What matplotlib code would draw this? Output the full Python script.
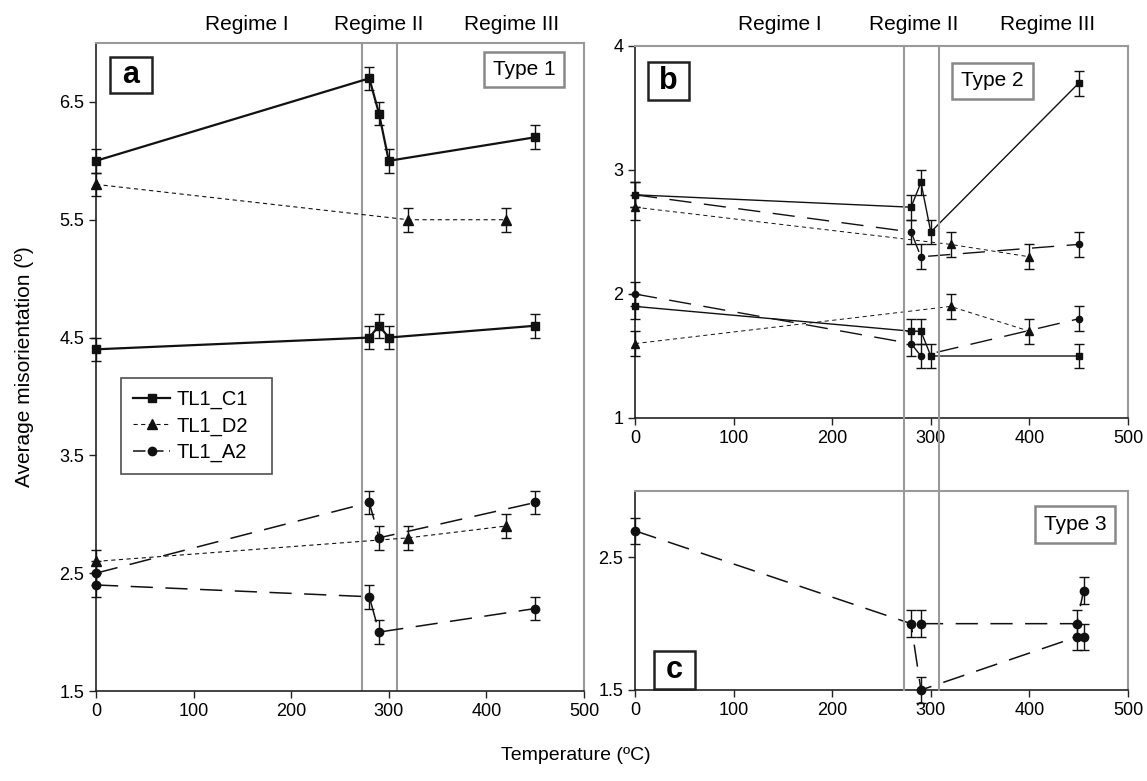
import matplotlib
matplotlib.use("Agg")
import matplotlib.pyplot as plt
from matplotlib.lines import Line2D
from matplotlib.patches import Rectangle
from matplotlib.transforms import blended_transform_factory

plt.rcParams["font.family"] = ["Liberation Sans", "DejaVu Sans"]
plt.rcParams["lines.scale_dashes"] = False

W, H = 1147, 781
ERR = 0.1
REGIME_BOUNDS = [272.5, 308.5]
XTICKS = [0, 100, 200, 300, 400, 500]
LEGEND_LABELS = ["TL1_C1", "TL1_D2", "TL1_A2"]

# panel a (Type 1)
A_C1_UP_X = [0, 280, 290, 300, 450]
A_C1_UP_Y = [6.0, 6.7, 6.4, 6.0, 6.2]
A_C1_LO_X = [0, 280, 290, 300, 450]
A_C1_LO_Y = [4.4, 4.5, 4.6, 4.5, 4.6]
A_D2_UP_X = [0, 320, 420]
A_D2_UP_Y = [5.8, 5.5, 5.5]
A_D2_LO_X = [0, 320, 420]
A_D2_LO_Y = [2.6, 2.8, 2.9]
A_A2_UP_X = [0, 280, 290, 450]
A_A2_UP_Y = [2.5, 3.1, 2.8, 3.1]
A_A2_LO_X = [0, 280, 290, 450]
A_A2_LO_Y = [2.4, 2.3, 2.0, 2.2]

# panel b (Type 2)
B_SOL_UP_X = [0, 280, 290, 300, 450]
B_SOL_UP_Y = [2.8, 2.7, 2.9, 2.5, 3.7]
B_DOT_UP_X = [0, 320, 400]
B_DOT_UP_Y = [2.7, 2.4, 2.3]
B_DSH_UP_X = [0, 280, 290, 450]
B_DSH_UP_Y = [2.8, 2.5, 2.3, 2.4]
B_SOL_LO_X = [0, 280, 290, 300, 450]
B_SOL_LO_Y = [1.9, 1.7, 1.7, 1.5, 1.5]
B_DOT_LO_X = [0, 320, 400]
B_DOT_LO_Y = [1.6, 1.9, 1.7]
B_DSH_LO_X = [0, 280, 290, 450]
B_DSH_LO_Y = [2.0, 1.6, 1.5, 1.8]

# panel c (Type 3)
C_DSH1_X = [0, 280, 290, 448, 455]
C_DSH1_Y = [2.7, 2.0, 1.5, 1.9, 1.9]
C_DSH2_X = [290, 448, 455]
C_DSH2_Y = [2.0, 2.0, 2.25]

GREY = "#999999"
INK = "#111111"
SOLID = dict(ls="-", marker="s")
DOTTED = dict(ls=(0, (3, 2.5)), marker="^")
DASHED = dict(ls=(0, (16, 9)), marker="o")


def px_rect(l, r, t, b):
    return [l / W, 1 - b / H, (r - l) / W, (b - t) / H]


def style_axes(ax, ylim, yticks, ylabels):
    ax.set_xlim(0, 500)
    ax.set_ylim(*ylim)
    ax.set_xticks(XTICKS)
    ax.set_yticks(yticks)
    ax.set_yticklabels(ylabels)
    for s in ("top", "right"):
        ax.spines[s].set_color(GREY)
        ax.spines[s].set_linewidth(1.5)
    for s in ("left", "bottom"):
        ax.spines[s].set_color("#222222")
        ax.spines[s].set_linewidth(1.2)
    ax.tick_params(direction="out", length=5, width=1, labelsize=13, color="#222222")


def draw(ax, x, y, style, lw, ms):
    ax.errorbar(x, y, yerr=ERR, color=INK, ecolor=INK, lw=lw, ms=ms,
                elinewidth=1, capsize=3.5, capthick=1, clip_on=False,
                zorder=3, **style)


def boxed(l, t, r, b, s, size, ec, bold=False):
    fig.add_artist(Rectangle((l / W, 1 - b / H), (r - l) / W, (b - t) / H,
                             transform=fig.transFigure, fc="white", ec=ec,
                             lw=1.8, zorder=6))
    fig.text((l + r) / 2 / W, 1 - (t + b) / 2 / H, s, ha="center", va="center",
             fontsize=size, fontweight="bold" if bold else "normal", zorder=7)


fig = plt.figure(figsize=(W / 100, H / 100), dpi=100)
ax_a = fig.add_axes(px_rect(96, 584, 43, 691))
ax_b = fig.add_axes(px_rect(635, 1128, 46, 418))
ax_c = fig.add_axes(px_rect(635, 1128, 491, 690))

# --- a
style_axes(ax_a, (1.5, 7.0), [1.5, 2.5, 3.5, 4.5, 5.5, 6.5],
           ["1.5", "2.5", "3.5", "4.5", "5.5", "6.5"])
for xv in REGIME_BOUNDS:
    ax_a.axvline(xv, color=GREY, lw=1.5, zorder=2)
draw(ax_a, A_C1_UP_X, A_C1_UP_Y, SOLID, 1.6, 5.5)
draw(ax_a, A_D2_UP_X, A_D2_UP_Y, DOTTED, 0.8, 6.5)
draw(ax_a, A_A2_LO_X, A_A2_LO_Y, DASHED, 1.1, 6)
draw(ax_a, A_C1_LO_X, A_C1_LO_Y, SOLID, 1.6, 5.5)
draw(ax_a, A_D2_LO_X, A_D2_LO_Y, DOTTED, 0.8, 6.5)
draw(ax_a, A_A2_UP_X, A_A2_UP_Y, DASHED, 1.1, 6)

handles = [
    Line2D([], [], color=INK, lw=1.6, ls="-", marker="s", ms=5.5),
    Line2D([], [], color=INK, lw=0.8, ls=(0, (3, 2.5)), marker="^", ms=6.5),
    Line2D([], [], color=INK, lw=1.1, ls=(0, (9, 4)), marker="o", ms=6),
]
l0, t0, r0, b0 = 121, 378, 272, 476
leg = ax_a.legend(handles, LEGEND_LABELS, loc="upper left", mode="expand",
                  bbox_to_anchor=((l0 - 96) / 488, 1 - (b0 - 43) / 648,
                                  (r0 - l0) / 488, (b0 - t0) / 648),
                  fontsize=14.5, frameon=True, fancybox=False, edgecolor="#222222",
                  handlelength=1.85, handletextpad=0.3, borderpad=0.6,
                  labelspacing=0.35, borderaxespad=0)
leg.get_frame().set_linewidth(1.2)

# --- b
style_axes(ax_b, (1, 4), [1, 2, 3, 4], ["1", "2", "3", "4"])
draw(ax_b, B_SOL_UP_X, B_SOL_UP_Y, SOLID, 1.0, 5)
draw(ax_b, B_DOT_UP_X, B_DOT_UP_Y, DOTTED, 0.7, 5.5)
draw(ax_b, B_DSH_UP_X, B_DSH_UP_Y, DASHED, 1.0, 4.5)
draw(ax_b, B_SOL_LO_X, B_SOL_LO_Y, SOLID, 1.0, 5)
draw(ax_b, B_DOT_LO_X, B_DOT_LO_Y, DOTTED, 0.7, 5.5)
draw(ax_b, B_DSH_LO_X, B_DSH_LO_Y, DASHED, 1.0, 4.5)

# --- c
style_axes(ax_c, (1.5, 3.0), [1.5, 2.5], ["1.5", "2.5"])
draw(ax_c, C_DSH1_X, C_DSH1_Y, DASHED, 1.1, 6)
draw(ax_c, C_DSH2_X, C_DSH2_Y, DASHED, 1.1, 6)

# regime boundaries run through panels b and c
tr = blended_transform_factory(ax_b.transData, fig.transFigure)
for xv in REGIME_BOUNDS:
    fig.add_artist(Line2D([xv, xv], [1 - 46 / H, 1 - 690 / H], transform=tr,
                          color=GREY, lw=1.5, zorder=5))

# labels & annotations
for x, s in [(247, "Regime I"), (379, "Regime II"), (512, "Regime III"),
             (780, "Regime I"), (914, "Regime II"), (1048, "Regime III")]:
    fig.text(x / W, 1 - 25 / H, s, ha="center", va="center", fontsize=15)

boxed(110, 57, 152, 93, "a", 22, "#222222", bold=True)
boxed(648, 62, 689, 100, "b", 22, "#222222", bold=True)
boxed(654, 651, 695, 689, "c", 22, "#222222", bold=True)
boxed(484, 52, 564, 87, "Type 1", 15, "#888888")
boxed(952, 63, 1033, 99, "Type 2", 15, "#888888")
boxed(1035, 506, 1115, 543, "Type 3", 15, "#888888")

fig.text(25 / W, 1 - 367 / H, "Average misorientation (º)", rotation=90,
         ha="center", va="center", fontsize=15)
fig.text(576 / W, 1 - 755 / H, "Temperature (ºC)", ha="center", va="center", fontsize=14)

fig.savefig("out.png", dpi=100)
